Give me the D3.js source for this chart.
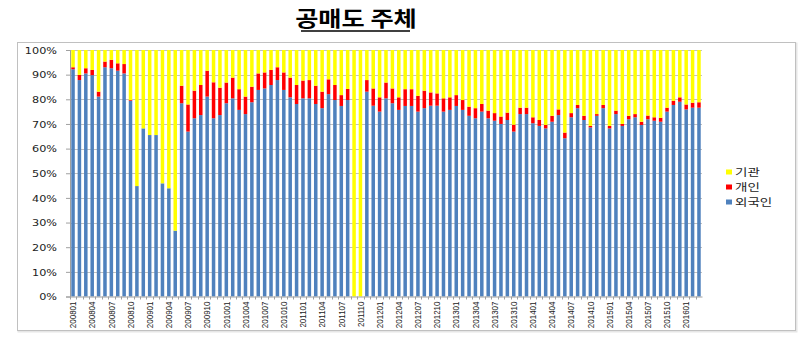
<!DOCTYPE html>
<html><head><meta charset="utf-8">
<script src="https://cdn.jsdelivr.net/npm/d3@7"></script>
<style>body{margin:0;background:#fff}svg{display:block}</style>
</head><body>
<svg id="c" width="810" height="349"></svg>
<script>
const months = [
"200801","200802","200803","200804","200805","200806","200807","200808","200809","200810","200811","200812",
"200901","200902","200903","200904","200905","200906","200907","200908","200909","200910","200911","200912",
"201001","201002","201003","201004","201005","201006","201007","201008","201009","201010","201011","201012",
"201101","201102","201103","201104","201105","201106","201107","201108","201109","201110","201111","201112",
"201201","201202","201203","201204","201205","201206","201207","201208","201209","201210","201211","201212",
"201301","201302","201303","201304","201305","201306","201307","201308","201309","201310","201311","201312",
"201401","201402","201403","201404","201405","201406","201407","201408","201409","201410","201411","201412",
"201501","201502","201503","201504","201505","201506","201507","201508","201509","201510","201511","201512",
"201601","201602","201603"];
const tickLabels = ["200801","200804","200807","200810","200901","200904","200907","200910","201001","201004","201007","201010",
"201101","201104","201107","201110","201201","201204","201207","201210","201301","201304","201307","201310",
"201401","201404","201407","201410","201501","201504","201507","201510","201601"];
const yTicks = [0,10,20,30,40,50,60,70,80,90,100];
const foreign = [92.2,87.8,90.5,89.8,81.1,93.0,92.6,91.6,90.5,79.4,44.8,68.2,
65.5,65.5,45.9,43.9,26.7,78.4,66.9,72.3,73.6,81.1,72.3,73.6,
78.4,80.4,75.7,74.0,78.8,83.8,84.4,85.8,87.8,83.8,80.8,78.1,
80.4,80.4,78.1,76.4,82.1,79.7,77.3,79.7,0,0,83.1,77.4,
75.0,80.4,78.4,75.7,77.3,77.3,75.0,76.4,77.4,77.4,75.0,75.7,
77.3,75.7,73.3,72.3,75.0,72.3,71.3,70.0,71.6,66.9,74.0,74.0,
70.3,69.2,68.2,70.9,73.6,64.2,72.7,76.4,71.6,68.6,73.3,76.4,
68.2,74.0,69.2,71.9,72.7,69.6,71.9,71.3,70.9,75.0,77.7,79.0,
75.9,76.6,76.6];
const individual = [0.8,2.1,2.1,2.1,2.0,2.3,3.4,3.0,3.8,0.3,0,0,
0,0,0,0,0,7.1,11.0,11.2,12.2,10.5,14.6,11.1,
8.4,8.4,8.4,7.1,6.3,6.7,6.5,6.1,5.2,7.1,8.0,7.7,
7.2,7.4,7.4,6.7,6.0,6.1,4.4,4.5,0,0,4.7,7.0,
5.8,6.4,6.0,5.1,6.8,6.8,6.4,7.1,5.4,5.0,5.4,5.1,
4.4,4.0,3.7,4.1,3.1,3.1,3.1,3.0,3.0,2.8,2.6,2.6,
2.4,2.4,1.4,2.4,2.3,2.3,1.7,1.3,1.7,0.6,0.7,1.3,
1.0,1.4,0.8,1.4,1.3,1.3,1.5,1.4,1.6,1.6,1.7,1.8,
2.0,2.0,2.2];
const institution = foreign.map((f,i)=>+(100-f-individual[i]).toFixed(1));
const seriesNames = ["외국인","개인","기관"];
const colors = {"외국인":"#4F81BD","개인":"#FF0000","기관":"#FFFF00"};

const svg = d3.select("#c");
const L=70, R=702, T=50, B=296.5;

// frame
svg.append("rect").attr("x",18.5).attr("y",43.5).attr("width",778).attr("height",288).attr("fill","none").attr("stroke","#e6e6e6").attr("stroke-width",2);
svg.append("rect").attr("x",17.5).attr("y",42.5).attr("width",778).attr("height",288).attr("fill","#fff").attr("stroke","#c0c0c0");

// title
svg.append("text").attr("transform","translate(356,26) scale(1.2,1)")
  .attr("text-anchor","middle").attr("font-family","Noto Sans CJK KR").attr("font-weight","bold")
  .attr("font-size",21).attr("fill","#000").text("공매도 주체");
svg.append("line").attr("x1",301).attr("x2",410).attr("y1",31).attr("y2",31).attr("stroke","#000").attr("stroke-width",1.6);

const data = months.map((m,i)=>({m, "외국인":foreign[i], "개인":individual[i], "기관":institution[i]}));
const x = d3.scaleBand().domain(months).range([L,R]).paddingInner(0.45).paddingOuter(0.2);
const y = d3.scaleLinear().domain([0,100]).range([B,T]);

// grid
svg.append("g").selectAll("line").data(yTicks.filter(t=>t>0)).join("line")
  .attr("x1",L).attr("x2",R).attr("y1",d=>Math.round(y(d))+0.5).attr("y2",d=>Math.round(y(d))+0.5)
  .attr("stroke","#c0c0c0").attr("stroke-width",1);

const stack = d3.stack().keys(seriesNames)(data);
svg.append("g").selectAll("g").data(stack).join("g").attr("fill",d=>colors[d.key])
  .selectAll("rect").data(d=>d).join("rect")
  .attr("x",d=>x(d.data.m)).attr("width",x.bandwidth())
  .attr("y",d=>y(d[1])).attr("height",d=>Math.max(0,y(d[0])-y(d[1])));

// y axis
const ya = svg.append("g").attr("transform",`translate(${L},0)`)
  .call(d3.axisLeft(y).tickValues(yTicks).tickSize(4).tickFormat(d=>d+"%"));
ya.select(".domain").attr("stroke","#a0a0a0");
ya.selectAll(".tick line").attr("stroke","#a0a0a0");
ya.selectAll(".tick text").attr("font-family","DejaVu Sans").attr("font-size",9).attr("fill","#222")
  .attr("x",0).attr("dy","0.35em")
  .attr("transform","translate(-13,0) scale(1.25,1)");

// x axis
const xa = svg.append("g").attr("transform",`translate(0,${B})`)
  .call(d3.axisBottom(x).tickValues(tickLabels).tickSize(0));
xa.select(".domain").attr("stroke","#a0a0a0");
xa.selectAll(".tick text").attr("font-family","Liberation Sans").attr("font-size",8).attr("fill","#222")
  .attr("text-anchor","end").attr("x",0).attr("y",0).attr("dy","0.35em")
  .attr("transform","translate(0,5) rotate(-90) scale(1,1.15)");
// small tick marks at category boundaries
svg.append("g").selectAll("line").data(months).join("line")
  .attr("x1",d=>Math.round(x(d)-x.step()*x.paddingInner()/2)+0.5)
  .attr("x2",d=>Math.round(x(d)-x.step()*x.paddingInner()/2)+0.5)
  .attr("y1",B).attr("y2",B+3).attr("stroke","#a0a0a0");

// legend
const lg = svg.append("g").attr("transform","translate(726,172)");
const legendOrder = ["기관","개인","외국인"];
legendOrder.forEach((k,i)=>{
  const g = lg.append("g").attr("transform",`translate(0,${i*15})`);
  g.append("rect").attr("x",0).attr("y",-2.5).attr("width",6).attr("height",5).attr("fill",colors[k]);
  g.append("text").attr("transform","translate(9,0) scale(1.35,1)").attr("dy","0.36em")
   .attr("font-family","Noto Sans CJK KR").attr("font-size",10).attr("fill","#222").text(k);
});
</script>
</body></html>
